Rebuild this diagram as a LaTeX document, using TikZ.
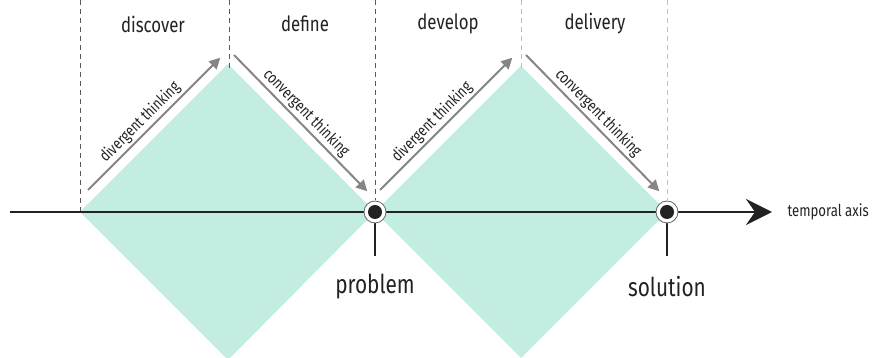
\documentclass[tikz,border=0pt]{standalone}
\usepackage{fontspec}
\setmainfont{Fira Sans}
\usetikzlibrary{arrows.meta,positioning}

\definecolor{mint}{HTML}{C3EDE3}
\definecolor{arrowgray}{HTML}{858585}
\definecolor{axisblack}{HTML}{222222}
\newcommand{\narrowtext}[1]{\scalebox{0.8}[1]{#1}}

\begin{document}
\begin{tikzpicture}[
x=1pt, y=1pt,
phase/.style={font=\fontsize{21}{23}\selectfont, text=axisblack},
milestone/.style={font=\fontsize{26}{28}\selectfont, text=axisblack},
thinking/.style={draw=arrowgray, line width=2pt, -{Triangle[length=11pt, width=11pt]}, shorten >=1pt},
thinklabel/.style={font=\fontsize{16}{17}\selectfont, text=axisblack, sloped, above=1pt, inner sep=1pt},
border/.style={dashed, dash pattern=on 5pt off 4pt, line width=0.8pt},
]
\useasboundingbox (0,0) rectangle (876,358);

% diamonds
\coordinate (l1) at (80,146);
\coordinate (t1) at (228,294);
\coordinate (p)  at (375,146);
\coordinate (b1) at (228,-2);
\coordinate (t2) at (521,292);
\coordinate (s)  at (667,146);
\coordinate (b2) at (521,0);
\fill[mint] (l1) -- (t1) -- (p) -- (b1) -- cycle;
\fill[mint] (p) -- (t2) -- (s) -- (b2) -- cycle;

% phase borders
\draw[border, draw=black!65] (80,358) -- (l1);
\draw[border, draw=black!65] (229,358) -- (229,290);
\draw[border, draw=black!65] (375,358) -- (375,158);
\draw[border, draw=black!25] (521,358) -- (521,290);
\draw[border, draw=black!25] (667,358) -- (667,158);

% phase names
\node[phase] (discover) at (153,334) {\narrowtext{discover}};
\node[phase] (define)   at (305,334) {\narrowtext{define}};
\node[phase] (develop)  at (448,334) {\narrowtext{develop}};
\node[phase] (delivery) at (595,334) {\narrowtext{delivery}};

% thinking arrows
\coordinate (da1) at (88,168);  \coordinate (db1) at (221,301);
\coordinate (ca1) at (234,303); \coordinate (cb1) at (368,166);
\coordinate (da2) at (380,168); \coordinate (db2) at (513,301);
\coordinate (ca2) at (526,303); \coordinate (cb2) at (660,166);
\draw[thinking] (da1) -- node[thinklabel, pos=0.45] {\narrowtext{divergent thinking}} (db1);
\draw[thinking] (ca1) -- node[thinklabel, pos=0.48] {\narrowtext{convergent thinking}} (cb1);
\draw[thinking] (da2) -- node[thinklabel, pos=0.45] {\narrowtext{divergent thinking}} (db2);
\draw[thinking] (ca2) -- node[thinklabel, pos=0.48] {\narrowtext{convergent thinking}} (cb2);

% temporal axis
\coordinate (start) at (10,146);
\coordinate (end)   at (772,146);
\draw[axisblack, line width=2.6pt, -{Stealth[length=26pt, width=26pt, inset=9pt]}] (start) -- (end);
\node[font=\fontsize{16.5}{18}\selectfont, text=axisblack, anchor=west] (axis) at (784,146) {\narrowtext{temporal axis}};

% milestones
\foreach \pt/\name in {p/problem, s/solution}{
  \draw[axisblack, line width=2.4pt] (\pt) -- ++(0,-44);
  \fill[white, draw=black!60, line width=0.8pt] (\pt) circle (11);
  \fill[axisblack] (\pt) circle (7);
  \node[milestone] (\name) at ([yshift=-75pt]\pt) {\narrowtext{\name}};
}
\end{tikzpicture}
\end{document}
